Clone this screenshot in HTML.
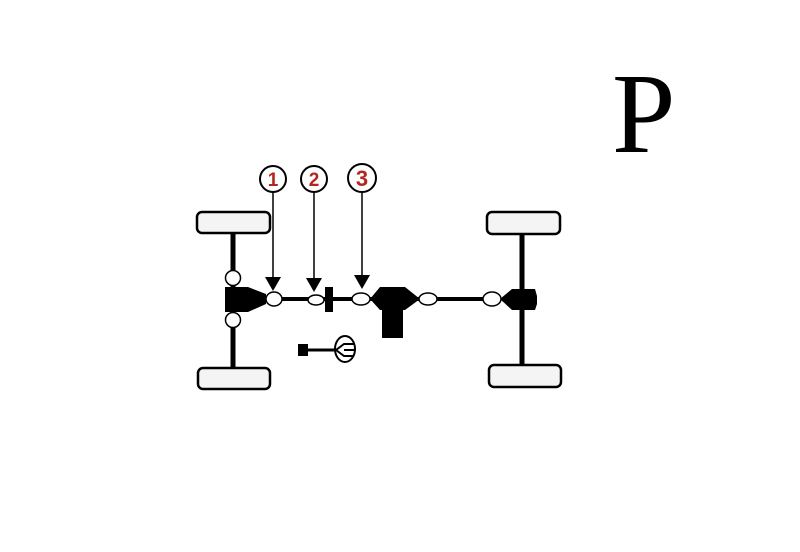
<!DOCTYPE html>
<html><head><style>html,body{margin:0;padding:0;background:#fff;}svg{display:block;}</style></head>
<body>
<svg width="800" height="552" viewBox="0 0 800 552" xmlns="http://www.w3.org/2000/svg">
<rect width="800" height="552" fill="#fff"/>
<text x="612" y="152" font-family="Liberation Serif, serif" font-size="114" fill="#000">P</text>
<!-- axles -->
<line x1="233" y1="232" x2="233" y2="370" stroke="#000" stroke-width="5"/>
<line x1="522" y1="233" x2="522" y2="366" stroke="#000" stroke-width="5"/>
<line x1="270" y1="299" x2="500" y2="299" stroke="#000" stroke-width="4"/>
<!-- tires -->
<rect x="197" y="212" width="73" height="21" rx="5" fill="#f4f4f4" stroke="#000" stroke-width="2.5"/>
<rect x="198" y="368" width="72" height="21" rx="5" fill="#f4f4f4" stroke="#000" stroke-width="2.5"/>
<rect x="487" y="212" width="73" height="22" rx="5" fill="#f4f4f4" stroke="#000" stroke-width="2.5"/>
<rect x="489" y="365" width="72" height="22" rx="5" fill="#f4f4f4" stroke="#000" stroke-width="2.5"/>
<!-- left diff -->
<polygon points="225,287 248,287 266,294 266,304 248,312 225,312" fill="#000"/>
<circle cx="233" cy="278" r="7.5" fill="#fff" stroke="#000" stroke-width="1.5"/>
<circle cx="233" cy="320" r="7.5" fill="#fff" stroke="#000" stroke-width="1.5"/>
<ellipse cx="274" cy="299" rx="8" ry="7" fill="#fff" stroke="#000" stroke-width="1.5"/>
<ellipse cx="316" cy="300" rx="8" ry="5" fill="#fff" stroke="#000" stroke-width="1.5"/>
<rect x="325" y="287" width="8" height="25" fill="#000"/>
<ellipse cx="361" cy="299" rx="9" ry="6" fill="#fff" stroke="#000" stroke-width="1.5"/>
<!-- transfer case -->
<polygon points="370,299 380,287 405,287 420,299 405,310 403,310 403,338 382,338 382,310 380,310" fill="#000"/>
<ellipse cx="428" cy="299" rx="9" ry="6" fill="#fff" stroke="#000" stroke-width="1.5"/>
<ellipse cx="492" cy="299" rx="9" ry="7" fill="#fff" stroke="#000" stroke-width="1.5"/>
<!-- rear diff -->
<polygon points="500,299 512,289 535,289 537,296 537,304 535,310 512,310" fill="#000"/>
<!-- steering -->
<rect x="298" y="344" width="10" height="12" fill="#000"/>
<line x1="306" y1="350" x2="340" y2="350" stroke="#000" stroke-width="3"/>
<ellipse cx="345" cy="349" rx="10" ry="13" fill="#fff" stroke="#000" stroke-width="2"/>
<path d="M336,350 L344,344 L354,344 M344,350 L354,350 M336,350 L344,356 L354,356" stroke="#000" stroke-width="2" fill="none"/>
<!-- callouts -->
<g stroke="#000" stroke-width="1.5">
<line x1="273" y1="192" x2="273" y2="280"/>
<line x1="314" y1="192" x2="314" y2="280"/>
<line x1="362" y1="192" x2="362" y2="278"/>
</g>
<polygon points="265,277 281,277 273,291" fill="#000"/>
<polygon points="306,278 322,278 314,292" fill="#000"/>
<polygon points="354,275 370,275 362,289" fill="#000"/>
<g font-family="Liberation Sans, sans-serif" font-weight="bold" fill="#b5261e" text-anchor="middle">
<circle cx="273" cy="179" r="13" fill="#fff" stroke="#000" stroke-width="2"/>
<text x="273" y="186" font-size="19">1</text>
<circle cx="314" cy="179" r="13" fill="#fff" stroke="#000" stroke-width="2"/>
<text x="314" y="186" font-size="19">2</text>
<circle cx="362" cy="178" r="14" fill="#fff" stroke="#000" stroke-width="2"/>
<text x="362" y="186" font-size="22">3</text>
</g>
</svg>
</body></html>
